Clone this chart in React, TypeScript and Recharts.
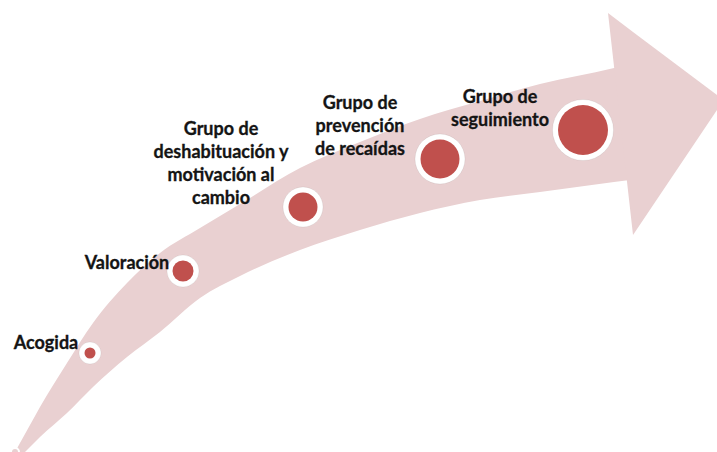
import { ComposedChart, Area, Scatter, XAxis, YAxis } from 'recharts'

// curved arrow body: top and bottom edge (y, px from top) at each x
const BODY_X = [15, 25, 40, 67, 93, 127, 160, 200, 240, 300, 360, 420, 480, 540, 614, 630]
const BODY_TOP = [452, 434, 407, 363, 323, 283, 253, 228, 204, 168, 142, 119, 101, 84, 68, 64]
const BODY_BOTTOM = [462, 452, 437, 413, 387, 357, 332, 298, 276, 250, 230, 213, 200, 192, 182, 180]

// arrow head
const HEAD_X = [608, 633, 717]
const HEAD_TOP = [13, 32, 95]
const HEAD_BOTTOM = [13, 235, 110]

// steps
const STEP_X = [90, 183, 303, 440, 583]
const STEP_Y = [353, 271, 207, 159, 130]
const STEP_R = [5.5, 10.5, 14.5, 19.5, 25]

const LABEL_LINES = [
  ['Acogida'],
  ['Valoración'],
  ['Grupo de', 'deshabituación y', 'motivación al', 'cambio'],
  ['Grupo de', 'prevención', 'de recaídas'],
  ['Grupo de', 'seguimiento'],
]
const LABEL_X = [46, 127, 221, 360, 500]
const LABEL_Y = [342, 262, 128, 102, 96]

const ARROW = '#E9D0D1'
const DOT = '#C0504D'
const FONT = 'Lato, "Open Sans", sans-serif'

const allX = Array.from(new Set([...BODY_X, ...HEAD_X])).sort((a, b) => a - b)
const arrowData = allX.map(x => {
  const bi = BODY_X.indexOf(x)
  const hi = HEAD_X.indexOf(x)
  return {
    x,
    body: bi >= 0 ? [BODY_TOP[bi], BODY_BOTTOM[bi]] : undefined,
    head: hi >= 0 ? [HEAD_TOP[hi], HEAD_BOTTOM[hi]] : undefined,
  }
})

const stepData = STEP_X.map((x, i) => ({ x, y: STEP_Y[i], r: STEP_R[i] }))
const labelData = LABEL_X.map((x, i) => ({ x, y: LABEL_Y[i], lines: LABEL_LINES[i] }))

const StepDot = (props: any) => {
  const { cx, cy, payload } = props
  return (
    <g>
      <circle cx={cx} cy={cy} r={payload.r + 5.5} fill="#fff" stroke="rgba(0,0,0,0.06)" strokeWidth={1} />
      <circle cx={cx} cy={cy} r={payload.r} fill={DOT} />
    </g>
  )
}

const StepLabel = (props: any) => {
  const { cx, cy, payload } = props
  return (
    <text x={cx} textAnchor="middle" fontFamily={FONT} fontWeight={700} fontSize={18} fill="#141414"
      stroke="#141414" strokeWidth={0.3}>
      {payload.lines.map((l: string, i: number) => (
        <tspan key={i} x={cx} y={cy + i * 23} dominantBaseline="central">{l}</tspan>
      ))}
    </text>
  )
}

export default function App() {
  return (
    <div style={{ position: 'absolute', left: 0, top: 0, background: '#fff' }}>
      <ComposedChart width={717} height={452} data={arrowData} margin={{ top: 0, right: 0, bottom: 0, left: 0 }}>
        <XAxis dataKey="x" type="number" domain={[0, 717]} hide allowDataOverflow />
        <YAxis type="number" domain={[0, 452]} reversed hide allowDataOverflow />
        <Area dataKey="body" type="monotone" fill={ARROW} fillOpacity={1} stroke="none" connectNulls isAnimationActive={false} />
        <Area dataKey="head" type="linear" fill={ARROW} fillOpacity={1} stroke="none" connectNulls isAnimationActive={false} />
        <Scatter data={stepData} dataKey="y" shape={StepDot} isAnimationActive={false} />
        <Scatter data={labelData} dataKey="y" shape={StepLabel} isAnimationActive={false} />
      </ComposedChart>
    </div>
  )
}
